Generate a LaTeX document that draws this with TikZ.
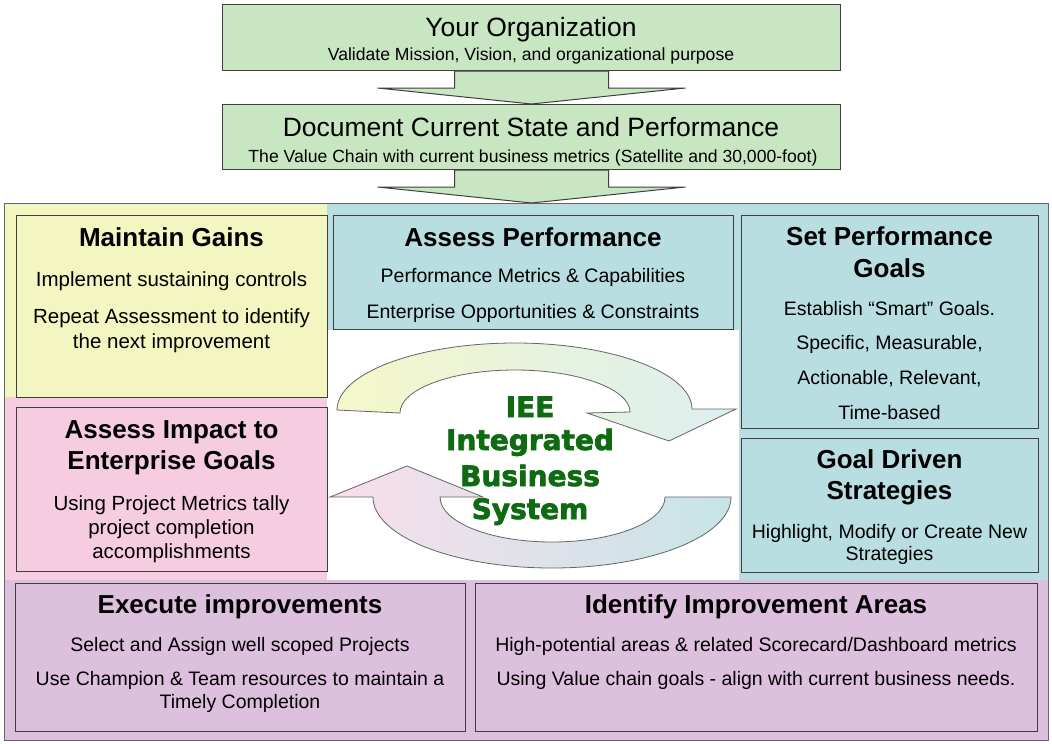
\documentclass[tikz,border=0pt]{standalone}
\usepackage{fontspec}
\setmainfont{Liberation Sans}
\newfontfamily\ieefont[BoldFeatures={FakeBold=2.5}]{DejaVu Sans}
\usetikzlibrary{calc}
\definecolor{edge}{HTML}{3F3F3F}
\definecolor{orgfill}{HTML}{C9E6C3}
\definecolor{gainfill}{HTML}{F3F6C0}
\definecolor{perffill}{HTML}{B8DEE2}
\definecolor{impactfill}{HTML}{F6CDE0}
\definecolor{execfill}{HTML}{DDC0DE}
\definecolor{ieegreen}{HTML}{0E6B12}
\newcommand{\flowarrow}[2]{%
  \filldraw[flowshape] ([xshift=-77pt]#1.south) -- ++(0,17) -- ++(-77,0) -- (#2)
    -- ([xshift=154pt,yshift=-17pt]#1.south) -- ++(-77,0) -- ([xshift=77pt]#1.south) -- cycle;}

\begin{document}
\begin{tikzpicture}[x=1pt,y=-1pt,
  panel/.style={draw=edge,line width=1pt,anchor=north west,inner sep=0pt},
  boxtitle/.style={anchor=base,font=\bfseries\fontsize{26}{30}\selectfont},
  boxtext/.style={anchor=base,font=\fontsize{19.5}{24}\selectfont},
  sidetext/.style={anchor=base,font=\fontsize{20.5}{25}\selectfont},
  toptitle/.style={anchor=base,font=\fontsize{26.5}{30}\selectfont},
  toptext/.style={anchor=base,font=\fontsize{17.6}{21}\selectfont},
  ieetext/.style={anchor=base,text=ieegreen,font=\ieefont\bfseries\fontsize{28}{32}\selectfont},
  flowshape/.style={fill=orgfill,draw=edge,line width=1pt},
  cyclearrow/.style={draw=edge!80,line width=0.8pt}]
\useasboundingbox (0,0) rectangle (1052,744);
\fill[white] (0,0) rectangle (1052,744);

% top of the flow
\node[panel,fill=orgfill,minimum width=618pt,minimum height=66pt] (org) at (222,4) {};
\node[panel,fill=orgfill,minimum width=618pt,minimum height=65pt] (doc) at (222,104) {};
\node[toptitle] (orgT) at (531,36) {Your Organization};
\node[toptext] (orgS) at (531,60) {Validate Mission, Vision, and organizational purpose};
\node[toptitle] (docT) at (531,136) {Document Current State and Performance};
\node[toptext] (docS) at (533,162) {The Value Chain with current business metrics (Satellite and 30,000-foot)};

% coloured areas of the loop
\fill[gainfill] (4,203) rectangle (327,397);
\fill[impactfill] (4,397) rectangle (327,580);
\fill[perffill] (327,203) rectangle (1048,330);
\fill[perffill] (739,330) rectangle (1048,580);
\fill[execfill] (4,580) rectangle (1048,740);
\node[draw=edge!80,line width=1pt,anchor=north west,inner sep=0pt,
  minimum width=1044pt,minimum height=537pt] (frame) at (4,203) {};

\coordinate (docin) at (doc.south |- frame.north);
\flowarrow{org}{doc.north}
\flowarrow{doc}{docin}

% boxes
\node[panel,fill=gainfill,minimum width=311pt,minimum height=182pt] (gains) at (16,215) {};
\node[panel,fill=perffill,minimum width=400pt,minimum height=114pt] (assess) at (333,215) {};
\node[panel,fill=perffill,minimum width=297pt,minimum height=213pt] (setgoal) at (741,215) {};
\node[panel,fill=impactfill,minimum width=311pt,minimum height=164pt] (impact) at (16,407) {};
\node[panel,fill=perffill,minimum width=297pt,minimum height=134pt] (strat) at (741,438) {};
\node[panel,fill=execfill,minimum width=450pt,minimum height=148pt] (exec) at (15,583) {};
\node[panel,fill=execfill,minimum width=562pt,minimum height=148pt] (ident) at (475,583) {};

% the two curved arrows
\shadedraw[cyclearrow,left color=gainfill!85,right color=perffill!50] (337,410)
  .. controls (337,373) and (418,343) .. (515,343)
  .. controls (612,343) and (692,373) .. (692,409)
  -- (736,409) -- (669,441) -- (587,413) -- (630,412)
  .. controls (630,389) and (578,370) .. (515,370)
  .. controls (452,370) and (400,389) .. (400,413) -- cycle;
\shadedraw[cyclearrow,left color=impactfill!65,right color=perffill!80] (731,497)
  .. controls (731,536) and (651,568) .. (552,568)
  .. controls (453,568) and (373,536) .. (373,497)
  -- (330,497) -- (407,466) -- (483,497) -- (440,497)
  .. controls (440,522) and (490,542) .. (552,542)
  .. controls (614,542) and (665,522) .. (665,497) -- cycle;

\node[ieetext] (iee1) at (530,417) {IEE};
\node[ieetext] (iee2) at (530,450) {Integrated};
\node[ieetext] (iee3) at (530,486) {Business};
\node[ieetext] (iee4) at (530,519) {System};

% texts of the boxes
\node[boxtitle] (gainsT) at (171.5,246) {Maintain Gains};
\node[sidetext] (gains1) at (171.5,286) {Implement sustaining controls};
\node[sidetext] (gains2) at (171.5,323) {Repeat Assessment to identify};
\node[sidetext] (gains3) at (171.5,348) {the next improvement};

\node[boxtitle] (assessT) at (533,246) {Assess Performance};
\node[boxtext] (assess1) at (533,282) {Performance Metrics \& Capabilities};
\node[boxtext] (assess2) at (533,318) {Enterprise Opportunities \& Constraints};

\node[boxtitle] (setgoalT1) at (889.5,245) {Set Performance};
\node[boxtitle] (setgoalT2) at (889.5,277) {Goals};
\node[boxtext] (setgoal1) at (889.5,315) {Establish “Smart” Goals.};
\node[boxtext] (setgoal2) at (889.5,349) {Specific, Measurable,};
\node[boxtext] (setgoal3) at (889.5,384) {Actionable, Relevant,};
\node[boxtext] (setgoal4) at (889.5,419) {Time-based};

\node[boxtitle] (impactT1) at (171.5,438) {Assess Impact to};
\node[boxtitle] (impactT2) at (171.5,469) {Enterprise Goals};
\node[sidetext] (impact1) at (171.5,510) {Using Project Metrics tally};
\node[sidetext] (impact2) at (171.5,534) {project completion};
\node[sidetext] (impact3) at (171.5,558) {accomplishments};

\node[boxtitle] (stratT1) at (889.5,468) {Goal Driven};
\node[boxtitle] (stratT2) at (889.5,499) {Strategies};
\node[boxtext] (strat1) at (889.5,538) {Highlight, Modify or Create New};
\node[boxtext] (strat2) at (889.5,560) {Strategies};

\node[boxtitle] (execT) at (240,613) {Execute improvements};
\node[boxtext] (exec1) at (240,651) {Select and Assign well scoped Projects};
\node[boxtext] (exec2) at (240,685) {Use Champion \& Team resources to maintain a};
\node[boxtext] (exec3) at (240,708) {Timely Completion};

\node[boxtitle] (identT) at (756,613) {Identify Improvement Areas};
\node[boxtext] (ident1) at (756,651) {High-potential areas \& related Scorecard/Dashboard metrics};
\node[boxtext] (ident2) at (756,685) {Using Value chain goals - align with current business needs.};
\end{tikzpicture}
\end{document}
